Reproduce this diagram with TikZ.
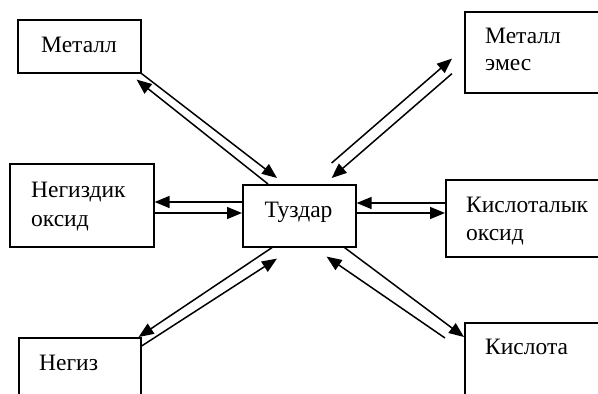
\documentclass[tikz,border=0pt]{standalone}
\usepackage{fontspec}
\setmainfont{Liberation Serif}
\usetikzlibrary{arrows.meta,calc}
\begin{document}
\begin{tikzpicture}[x=1pt,y=-1pt,
  box/.style={draw=black,line width=1.6pt,rectangle,inner sep=0pt,anchor=north west},
  lbl/.style={inner sep=0pt,anchor=base west,font=\fontsize{23.5}{28}\selectfont},
  arr/.style={line width=1.5pt,-{Triangle[length=15pt,width=12pt]}}]
\useasboundingbox (0,0) rectangle (598,394);
\clip (0,0) rectangle (598,394);
% boxes
\node[box,minimum width=123pt,minimum height=53pt] (metall) at (17,19) {};
\node[box,minimum width=170pt,minimum height=81pt] (memes) at (464,11) {};
\node[box,minimum width=144pt,minimum height=83pt] (negoks) at (9,163) {};
\node[box,minimum width=113pt,minimum height=62pt] (tuz) at (242,184) {};
\node[box,minimum width=190pt,minimum height=77pt] (kisoks) at (445,179) {};
\node[box,minimum width=122pt,minimum height=80pt] (negiz) at (18,337) {};
\node[box,minimum width=170pt,minimum height=90pt] (kislota) at (464,322) {};
% labels
\node[lbl] (tmetall) at (41,52) {Металл};
\node[lbl] (tmemes1) at (485,43) {Металл};
\node[lbl] (tmemes2) at (485,70) {эмес};
\node[lbl] (tnegoks1) at (31,197) {Негиздик};
\node[lbl] (tnegoks2) at (31,226) {оксид};
\node[lbl,anchor=base] (ttuz) at (298.5,217) {Туздар};
\node[lbl] (tkisoks1) at (466,212) {Кислоталык};
\node[lbl] (tkisoks2) at (466,240) {оксид};
\node[lbl] (tnegiz) at (39,370) {Негиз};
\node[lbl] (tkislota) at (485,354) {Кислота};
% connectors
\draw[arr] (metall.south east) -- ($(tuz.north west)+(35,-6)$);
\draw[arr] ($(tuz.north west)+(26,0)$) -- ($(metall.south east)+(-5,6)$);
\draw[arr] ($(tuz.north east)+(-25,-21)$) -- ($(memes.south west)+(-12,-35)$);
\draw[arr] ($(memes.south west)+(-12,-20)$) -- ($(tuz.north east)+(-25,-6)$);
\draw[arr] ($(tuz.north west)+(0,18)$) -- ($(negoks.north east)+(0,39)$);
\draw[arr] ($(negoks.north east)+(0,50)$) -- ($(tuz.north west)+(0,29)$);
\draw[arr] ($(kisoks.north west)+(0,24)$) -- ($(tuz.north east)+(0,19)$);
\draw[arr] ($(tuz.north east)+(0,29)$) -- ($(kisoks.north west)+(0,34)$);
\draw[arr] ($(tuz.south west)+(30,0)$) -- ($(negiz.north east)+(-3,0)$);
\draw[arr] ($(negiz.north east)+(0,9)$) -- ($(tuz.south west)+(35,11)$);
\draw[arr] ($(kislota.north west)+(-19,16)$) -- ($(tuz.south east)+(-30,9)$);
\draw[arr] ($(tuz.south east)+(-12,0)$) -- ($(kislota.north west)+(0,15)$);
\end{tikzpicture}
\end{document}
